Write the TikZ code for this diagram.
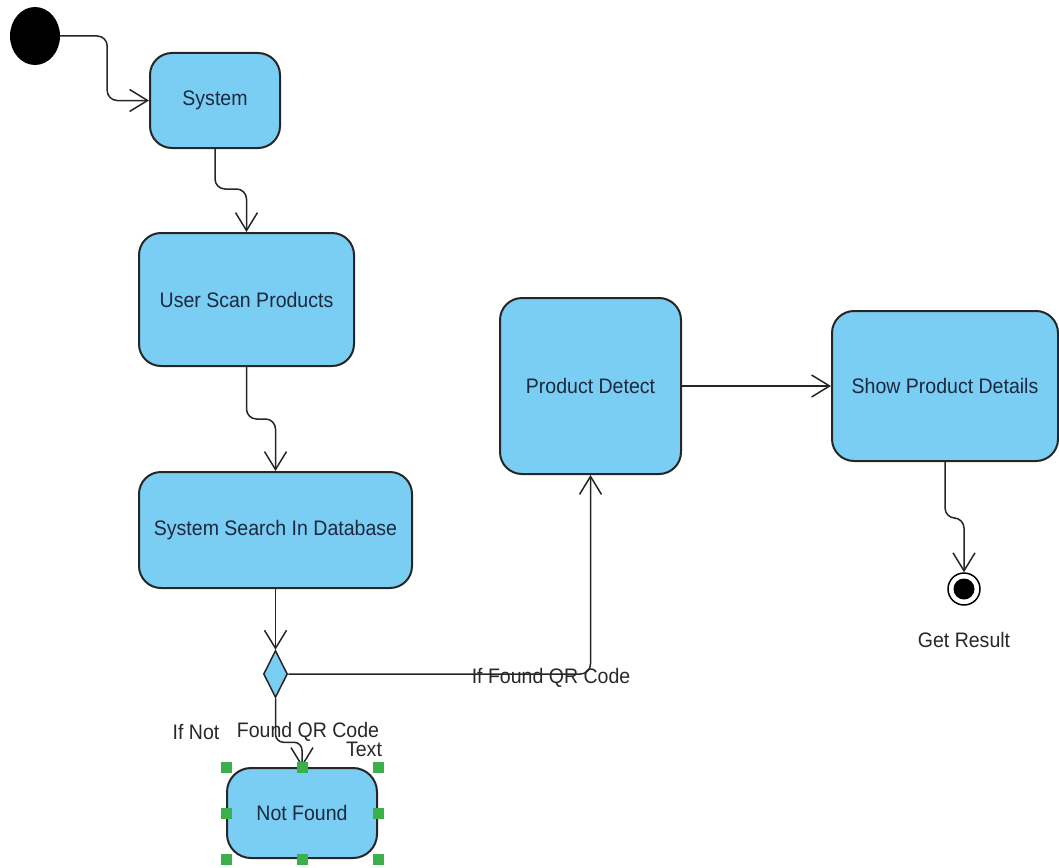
\documentclass[tikz,border=0pt]{standalone}
\usepackage{fontspec}
\setmainfont{Liberation Sans}[FakeStretch=0.93]
\usetikzlibrary{arrows.meta,shapes.geometric}
\definecolor{actfill}{RGB}{122,206,243}
\definecolor{acttext}{RGB}{28,40,62}
\definecolor{handle}{RGB}{58,176,74}
\definecolor{lbl}{RGB}{40,40,40}
\begin{document}
\begin{tikzpicture}[x=1pt,y=-1pt,
  every node/.style={font=\fontsize{21}{25}\selectfont},
  activity/.style={draw=black!85,line width=2pt,fill=actfill,rounded corners=22pt,
    inner sep=0pt,text=acttext,align=center},
  flow/.style={draw=black!85,line width=1.5pt,rounded corners=10pt,
    -{Straight Barb[length=18pt,width=22pt]}},
  guard/.style={text=lbl,inner sep=0pt},
  grip/.style={fill=handle,draw=none,minimum size=11pt,inner sep=0pt}]
\useasboundingbox (0,0) rectangle (1059,867);

% initial and final states
\node[ellipse,fill=black,minimum width=50pt,minimum height=58pt,inner sep=0pt] (start) at (35,36) {};
\node[circle,draw=black,line width=1.5pt,fill=white,minimum size=32pt,inner sep=0pt] (final) at (964,589) {};
\node[circle,fill=black,minimum size=21pt,inner sep=0pt] (finaldot) at (final.center) {};
\node[guard] (getres) at (964,640) {Get Result};

% activities
\node[activity,minimum width=130pt,minimum height=95pt] (sys) at (215,100.5) {System};
\node[activity,minimum width=215pt,minimum height=133pt] (scan) at (246.5,299.5) {User Scan Products};
\node[activity,minimum width=273pt,minimum height=116pt] (search) at (275.5,530) {System Search In Database};
\node[activity,minimum width=181pt,minimum height=176pt] (detect) at (590.5,386) {Product Detect};
\node[activity,minimum width=226pt,minimum height=150pt] (show) at (945,386) {Show Product Details};
\node[activity,minimum width=150pt,minimum height=90pt,rounded corners=24pt] (nf) at (302,813) {Not Found};

% decision
\node[diamond,draw=black!85,line width=1.5pt,fill=actfill,minimum width=24pt,minimum height=47pt,inner sep=0pt] (dec) at (275.5,674) {};

% transitions
\draw[flow] (start.east) -- ++(47,0) |- (sys.west);
\draw[flow] (sys.south) -- ++(0,40) -| (scan.north);
\draw[flow] (scan.south) -- ++(0,52) -| (search.north);
\draw[flow] (search.south) -- (dec.north);
\draw[flow] (dec.east) -| (detect.south);
\draw[flow] (detect.east) -- (show.west);
\draw[flow] (show.south) -- ++(0,56) -| (final.north);
\draw[flow,rounded corners=8pt] (dec.south) -- ++(0,44) -| (nf.north);

% guards
\node[guard] (gfound) at (551,678) {If Found QR Code};
\node[guard] (gifnot) at (196,732) {If Not};
\node[guard] (gnotqr) at (308,732) {Found QR Code};
\node[guard] (gtext) at (364,749) {Text};

% selection handles
\foreach \a [count=\i] in {north west,north,north east,west,east,south west,south,south east}
  \node[grip] (grip\i) at (nf.\a) {};
\end{tikzpicture}
\end{document}
